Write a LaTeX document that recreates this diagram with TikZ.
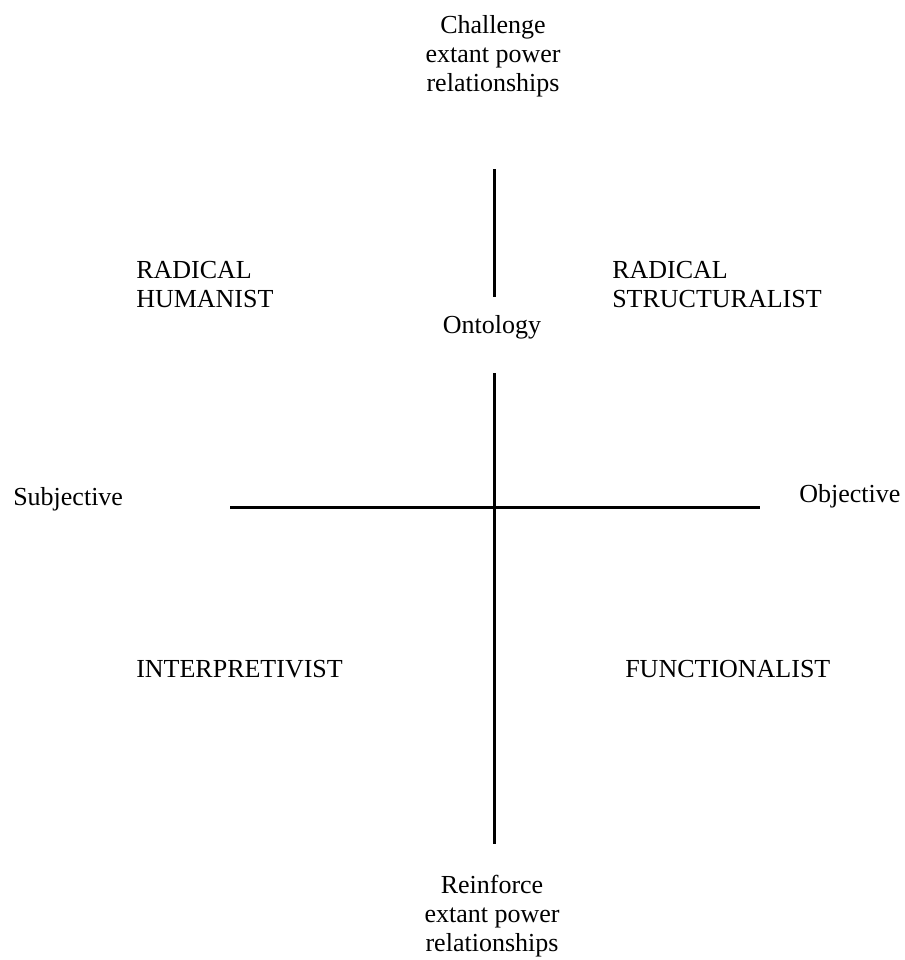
\documentclass[tikz,border=0pt]{standalone}
\usepackage{fontspec}
\setmainfont{Liberation Serif}
\begin{document}
\begin{tikzpicture}[x=0.75pt,y=-0.75pt,
  lbl/.style={inner sep=0pt,font=\fontsize{19.5}{21.75}\selectfont},
  axis/.style={line width=2.25pt}]
\useasboundingbox (0,0) rectangle (905,960);
% axis end points
\coordinate (vt1) at (494,169);
\coordinate (vt2) at (494,297);
\coordinate (vb1) at (494,373);
\coordinate (vb2) at (494,844);
\coordinate (hl) at (230,507);
\coordinate (hr) at (760,507);
\draw[axis] (vt1) -- (vt2);
\draw[axis] (vb1) -- (vb2);
\draw[axis] (hl) -- (hr);
% labels
\node[lbl,align=center,anchor=north] (top) at (493,15) {Challenge\\extant power\\relationships};
\node[lbl,anchor=base] (onto) at (492,333) {Ontology};
\node[lbl,anchor=base west] (subj) at (13,505) {Subjective};
\node[lbl,anchor=base west] (obj) at (799,502) {Objective};
\node[lbl,align=left,anchor=north west] (rh) at (136,261) {RADICAL\\HUMANIST};
\node[lbl,align=left,anchor=north west] (rs) at (612,261) {RADICAL\\STRUCTURALIST};
\node[lbl,anchor=base west] (interp) at (136,677) {INTERPRETIVIST};
\node[lbl,anchor=base west] (func) at (625,677) {FUNCTIONALIST};
\node[lbl,align=center,anchor=north] (bot) at (492,875) {Reinforce\\extant power\\relationships};
\end{tikzpicture}
\end{document}
